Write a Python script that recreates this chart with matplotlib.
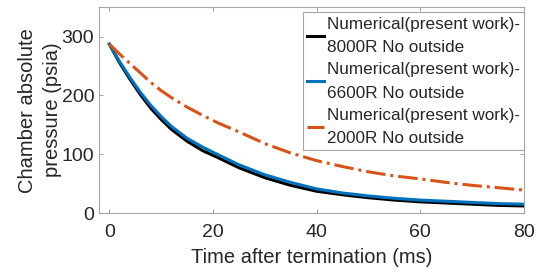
import matplotlib.pyplot as plt

plt.rcParams['font.family'] = ['Liberation Sans', 'DejaVu Sans']

# time after termination (ms)
t = [0, 2, 4, 6, 8, 10, 12, 15, 18, 21, 25, 30, 35, 40, 45, 50, 55, 60, 65, 70, 75, 80]

# chamber absolute pressure (psia)
p_8000 = [287, 255, 227, 201, 178, 159, 142, 122, 106, 94, 77, 60, 47, 37, 31, 26, 22, 19, 17, 15, 13, 12]
p_6600 = [287, 257, 230, 205, 183, 164, 147, 127, 112, 99, 82, 65, 52, 41, 34, 29, 25, 22, 20, 18, 16, 15]
p_2000 = [287, 270, 254, 238, 222, 208, 196, 180, 166, 153, 138, 118, 102, 89, 79, 70, 63, 58, 52, 47, 43, 39]

labels = ['Numerical(present work)-\n8000R No outside',
          'Numerical(present work)-\n6600R No outside',
          'Numerical(present work)-\n2000R No outside']

txt = '#262626'
grey = '#a6a6a6'

fig = plt.figure(figsize=(5.39, 2.74), dpi=100)
ax = fig.add_axes([0.1837, 0.2226, 0.7883, 0.7514])

ax.plot(t, p_8000, color='black', lw=2.2, label=labels[0])
ax.plot(t, p_6600, color='#0072BD', lw=2.2, label=labels[1])
ax.plot(t, p_2000, color='#D95319', lw=2.2, ls='-.', label=labels[2])

ax.set_xlim(-2, 80)
ax.set_ylim(0, 350)
ax.set_xticks([0, 20, 40, 60, 80])
ax.set_yticks([0, 100, 200, 300])
ax.tick_params(direction='in', top=True, right=True, labelsize=14,
               colors=grey, labelcolor=txt, length=3, width=0.8)
ax.tick_params(axis='x', pad=8)
for s in ax.spines.values():
    s.set_color(grey)
    s.set_linewidth(0.8)

ax.set_xlabel('Time after termination (ms)', fontsize=14.5, color=txt, labelpad=5)
ax.set_ylabel('Chamber absolute\npressure (psia)', fontsize=14.5, color=txt, labelpad=0,
              linespacing=1.35)

leg = ax.legend(loc='upper right', fontsize=12.3, handlelength=1.0, handletextpad=0.15,
                borderpad=0.25, labelspacing=0.42, borderaxespad=0.0, fancybox=False,
                framealpha=1, bbox_to_anchor=(1.0, 0.975))
leg.get_frame().set_edgecolor(grey)
leg.get_frame().set_linewidth(0.8)
for tx in leg.get_texts():
    tx.set_color(txt)
    tx.set_linespacing(1.7)

plt.savefig('out.png', dpi=100)
plt.close()
